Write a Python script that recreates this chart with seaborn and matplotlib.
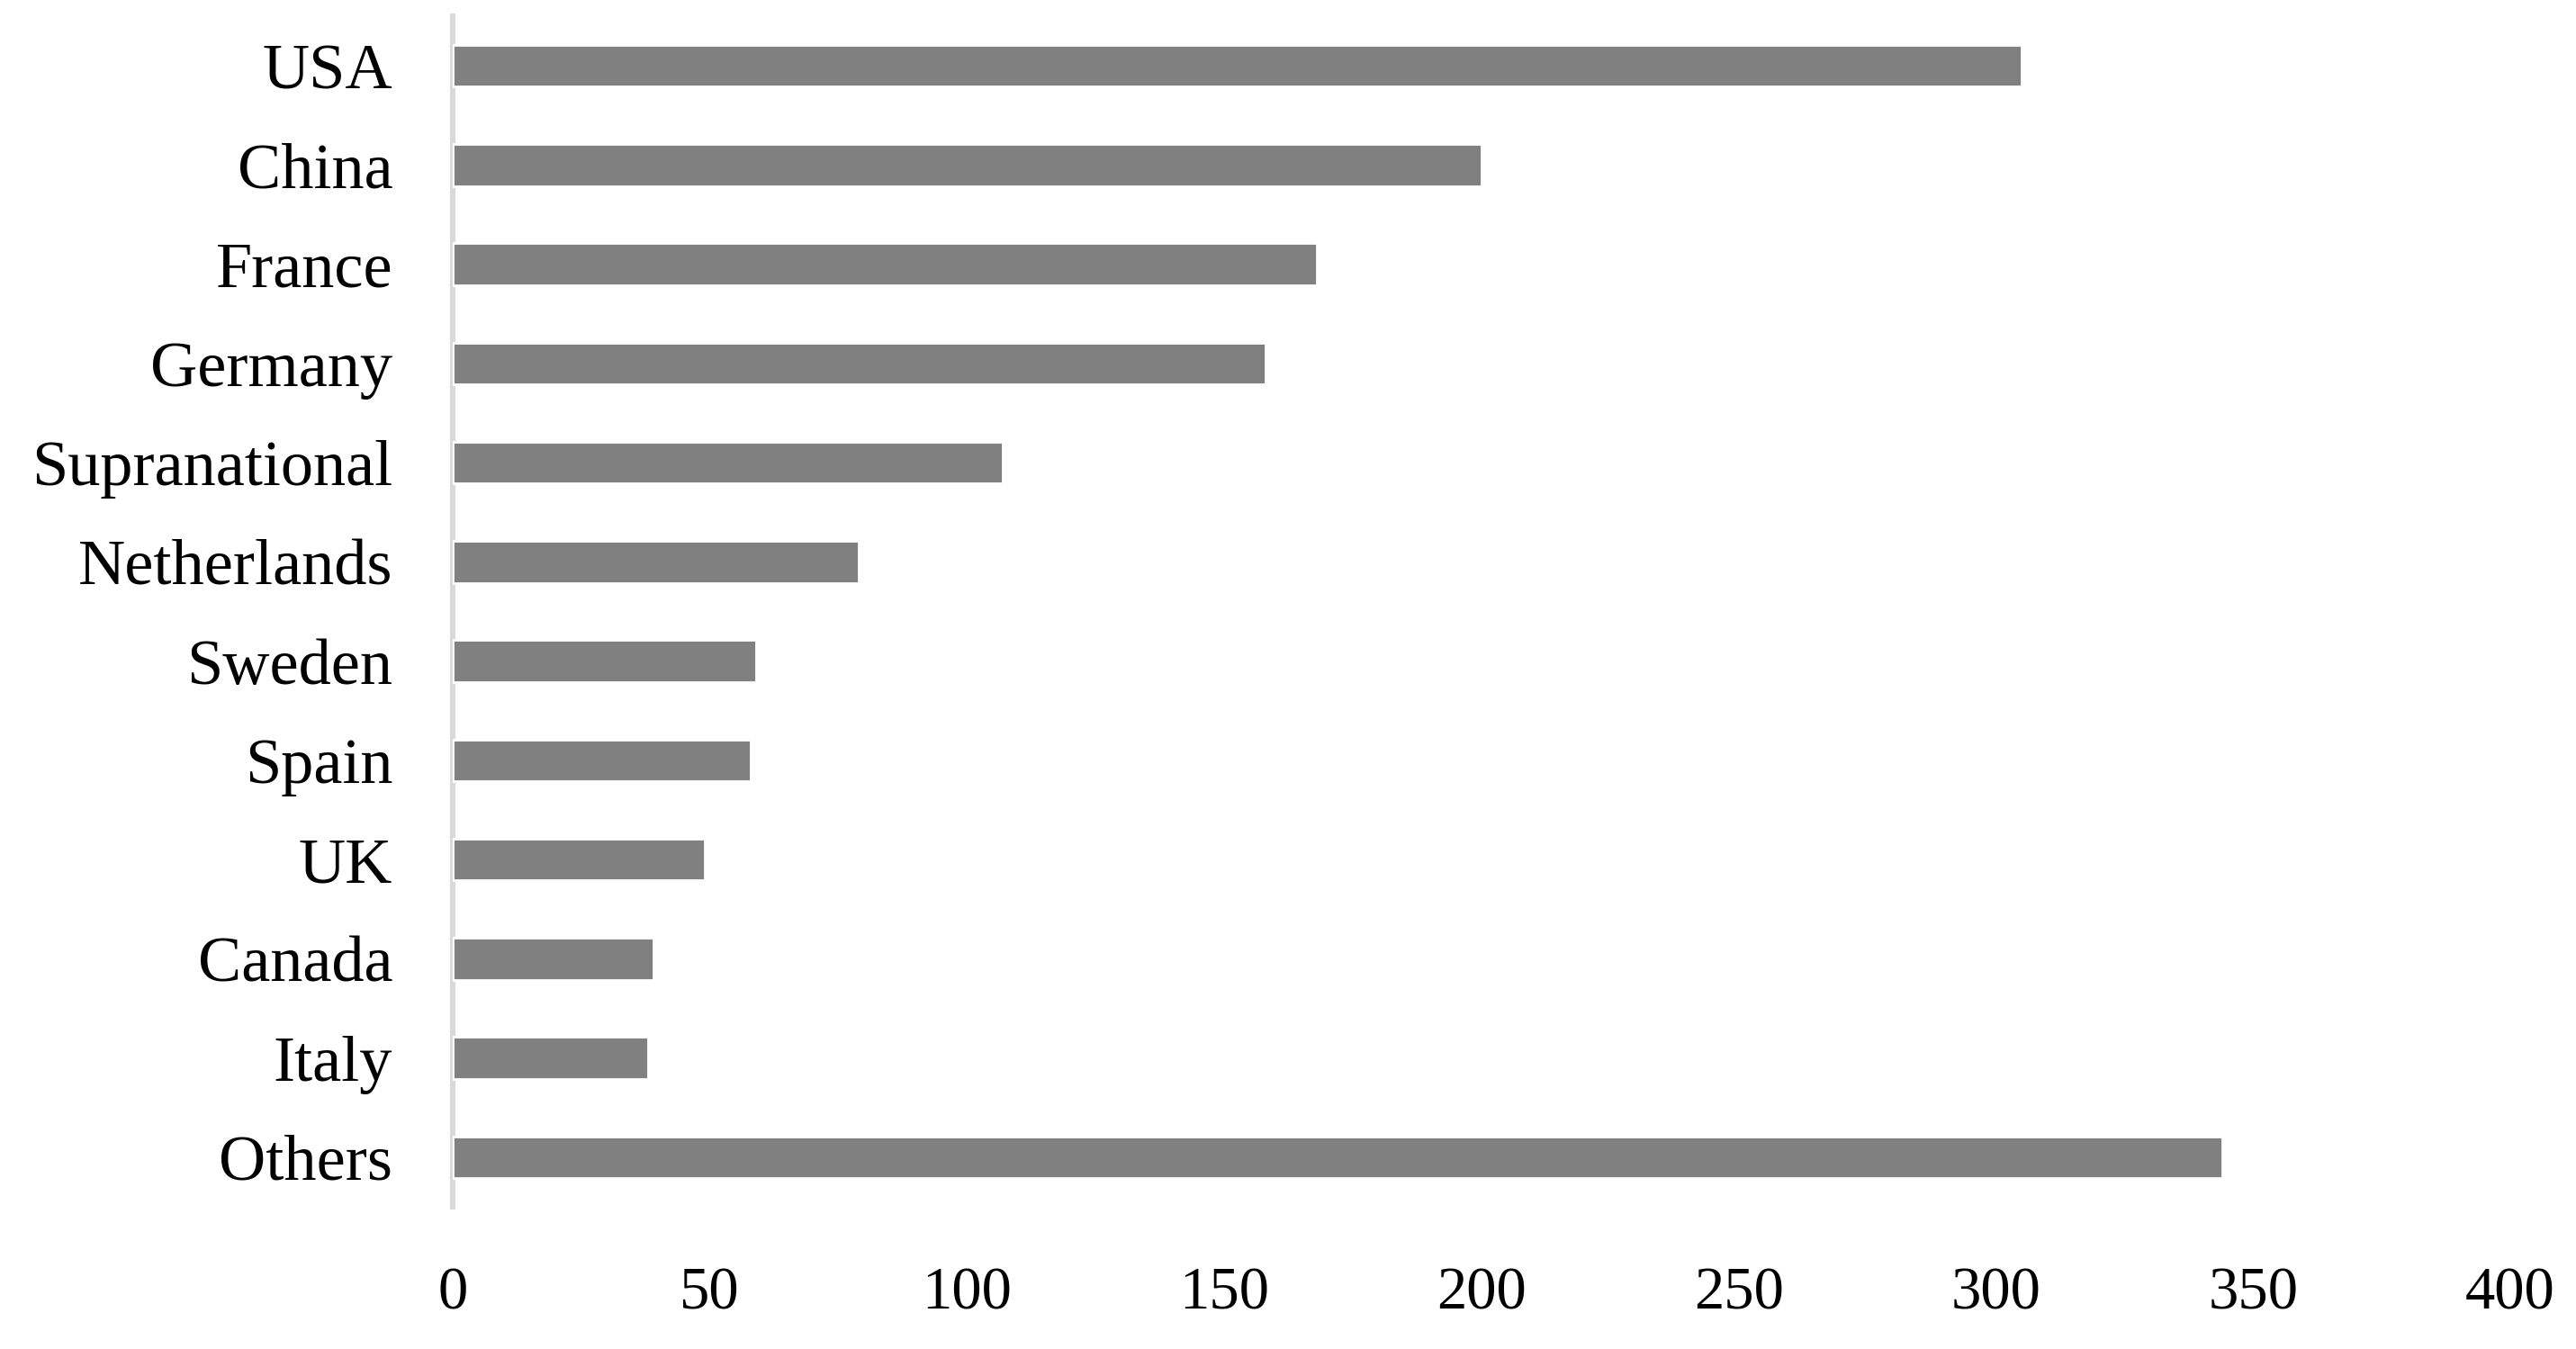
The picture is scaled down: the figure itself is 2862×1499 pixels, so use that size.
import matplotlib
matplotlib.use('Agg')
import matplotlib.pyplot as plt
import seaborn as sns
import pandas as pd

# Values
countries = ['USA', 'China', 'France', 'Germany', 'Supranational', 'Netherlands',
             'Sweden', 'Spain', 'UK', 'Canada', 'Italy', 'Others']
counts = [305, 200, 168, 158, 107, 79, 59, 58, 49, 39, 38, 344]
x_ticks = [0, 50, 100, 150, 200, 250, 300, 350, 400]

df = pd.DataFrame({'country': countries, 'count': counts})

sns.set_style('white')
plt.rcParams['font.family'] = ['Liberation Serif', 'DejaVu Serif']

fig = plt.figure(figsize=(14.31, 7.495), dpi=200)
ax = fig.add_axes([0.1757, 0.1054, 0.7988, 0.8826])

sns.barplot(data=df, x='count', y='country', order=countries, orient='h',
            color='#808080', width=0.42, saturation=1, ax=ax)

ax.set_xlim(0, 400)
ax.set_ylim(len(countries) - 0.5, -0.5)
ax.set_xticks(x_ticks)
ax.set_xticklabels([str(t) for t in x_ticks])
ax.set_xlabel('')
ax.set_ylabel('')

for side in ['top', 'right', 'bottom']:
    ax.spines[side].set_visible(False)
ax.spines['left'].set_color('#d9d9d9')
ax.spines['left'].set_linewidth(2.2)
ax.spines['left'].set_zorder(0.5)

ax.tick_params(axis='both', length=0, colors='black')
ax.tick_params(axis='x', labelsize=24, pad=24)
ax.tick_params(axis='y', labelsize=26, pad=24)

fig.savefig('out.png', dpi=200, facecolor='white')
